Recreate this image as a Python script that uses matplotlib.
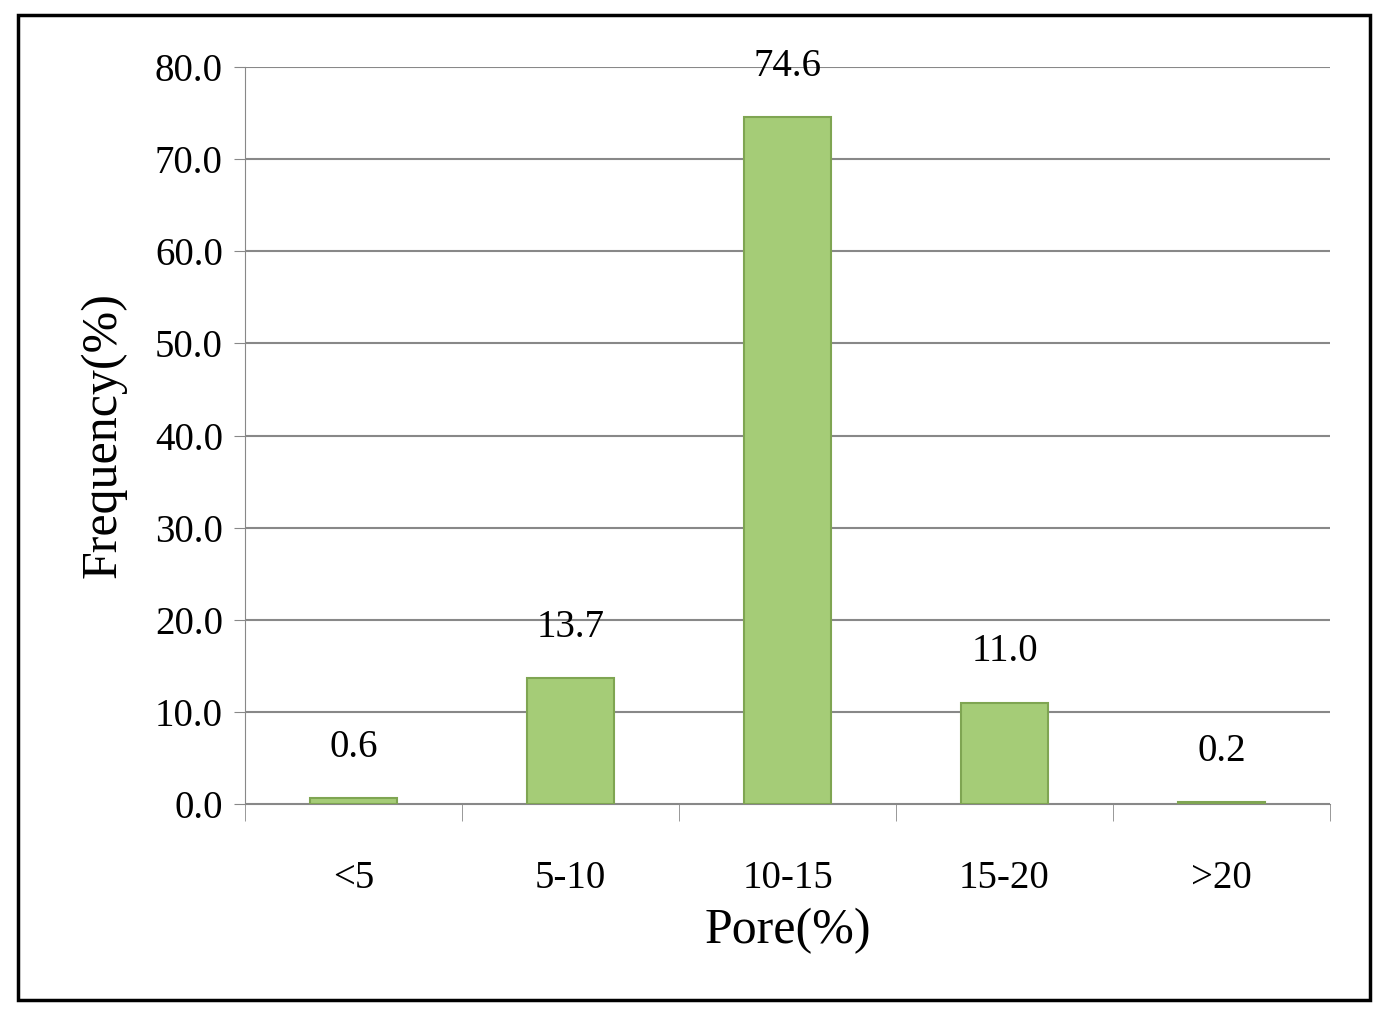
import matplotlib
matplotlib.use("Agg")
import matplotlib.pyplot as plt
from matplotlib.patches import Rectangle

categories = ["<5", "5-10", "10-15", "15-20", ">20"]
values = [0.6, 13.7, 74.6, 11.0, 0.2]
yticks = [0, 10, 20, 30, 40, 50, 60, 70, 80]

plt.rcParams['font.family'] = ['Liberation Serif', 'DejaVu Serif']
fig = plt.figure(figsize=(13.85, 10.26), dpi=100)
fig.patches.append(Rectangle((18/1385, 1-1000/1026), (1370-18)/1385, (1000-15)/1026,
                             transform=fig.transFigure, fill=False, edgecolor='black', linewidth=2.5))
ax = fig.add_axes([245/1385, 1-804/1026, (1330-245)/1385, (804-67)/1026])
x = range(len(categories))
ax.bar(x, values, width=0.4, color='#a5cc77', edgecolor='#7fa552', linewidth=1.5, zorder=3)
for xi, v in zip(x, values):
    ax.text(xi, v + 3.5, f"{v:.1f}", ha='center', va='bottom', fontsize=28)
ax.set_xlim(-0.5, len(categories) - 0.5)
ax.set_ylim(0, 80)
ax.set_yticks(yticks)
ax.set_yticklabels([f"{t:.1f}" for t in yticks], fontsize=28)
ax.set_xticks(list(x))
ax.set_xticklabels(categories, fontsize=28)
ax.tick_params(axis='x', length=0, pad=40)
ax.set_xticks([i - 0.5 for i in range(len(categories) + 1)], minor=True)
ax.tick_params(axis='x', which='minor', length=12, color='#888888', direction='out')
ax.tick_params(axis='y', length=8, color='#888888', direction='out', pad=8)
ax.grid(axis='y', color='#888888', linewidth=1.5, zorder=0)
for s in ['top', 'right']:
    ax.spines[s].set_visible(False)
for s in ['left', 'bottom']:
    ax.spines[s].set_color('#888888')
ax.set_xlabel("Pore(%)", fontsize=36, labelpad=8)
ax.set_ylabel("Frequency(%)", fontsize=36, labelpad=20)
fig.savefig("out.png", dpi=100)
